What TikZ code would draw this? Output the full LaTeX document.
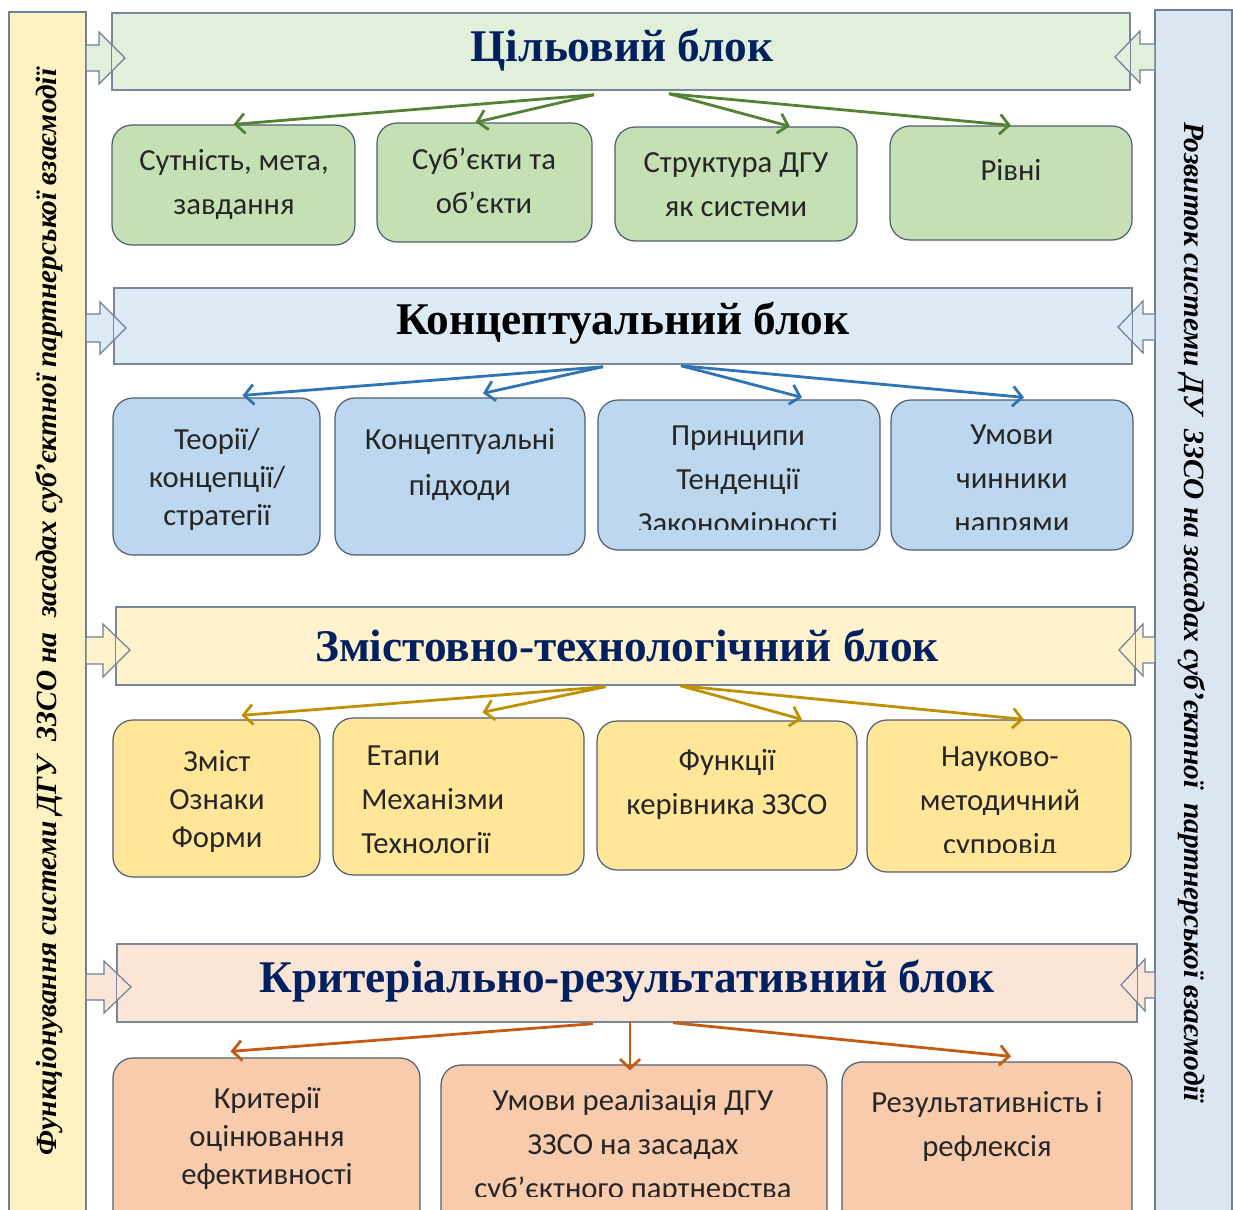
\documentclass[tikz,border=0pt]{standalone}
\usepackage{fontspec}
\setmainfont{Liberation Serif}
\newfontfamily\bodyfont{Carlito}
\usetikzlibrary{arrows.meta,fit,calc}
\definecolor{lbar}{HTML}{FFF2C2}
\definecolor{rbar}{HTML}{DCE6F2}
\definecolor{barline}{HTML}{6E7F99}
\definecolor{blkline}{HTML}{7A8798}
\definecolor{boxline}{HTML}{4E5D70}
\definecolor{gblk}{HTML}{E2EFDA}
\definecolor{gbox}{HTML}{C5E0B4}
\definecolor{garr}{HTML}{548235}
\definecolor{bblk}{HTML}{DDEBF7}
\definecolor{bbox}{HTML}{BDD7EE}
\definecolor{barr}{HTML}{2E75B6}
\definecolor{yblk}{HTML}{FFF2CC}
\definecolor{ybox}{HTML}{FFE699}
\definecolor{yarr}{HTML}{BF9000}
\definecolor{pblk}{HTML}{FBE5D6}
\definecolor{pbox}{HTML}{F8CBAD}
\definecolor{parr}{HTML}{C55A11}
\definecolor{navy}{HTML}{002060}
\definecolor{txt}{HTML}{262626}
\begin{document}
\begin{tikzpicture}[x=0.75pt,y=-0.75pt,
  sidebar/.style={draw=barline, line width=1.1pt, inner sep=0pt},
  titlebox/.style={draw=blkline, line width=1.1pt, inner sep=0pt},
  itembox/.style={draw=boxline, line width=0.9pt, rounded corners=15pt, inner sep=0pt},
  itemtext/.style={font=\bodyfont\fontsize{23}{33}\selectfont, text=txt, align=center, inner sep=0pt},
  tighttext/.style={font=\bodyfont\fontsize{23}{28.5}\selectfont, text=txt, align=center, inner sep=0pt},
  titletext/.style={font=\bfseries\fontsize{34}{40}\selectfont, inner sep=0pt},
  sidetext/.style={font=\bfseries\itshape\fontsize{22}{26}\selectfont, text=black, inner sep=0pt},
  conn/.style={line width=2.1pt, -{Straight Barb[length=7pt,width=15pt,line width=2.1pt]}},
  blockarrow/.style={draw=barline, line width=0.9pt}
]
\useasboundingbox (0,0) rectangle (1233,1210);
\clip (0,0) rectangle (1233,1210);

% side bars
\node[sidebar, fill=lbar, fit={(9,12) (86,1240)}] (LB) {};
\node[sidebar, fill=rbar, fit={(1155,10) (1232,1240)}] (RB) {};
\node[sidetext, rotate=90] (LT) at (49,612) {Функціонування системи ДГУ ~ЗЗСО на ~засадах суб’єктної партнерської взаємодії};
\node[sidetext, rotate=-90] (RT) at (1192,612) {Розвиток системи ДУ ~ЗЗСО на засадах суб’єктної ~партнерської взаємодії};

% ===== block 1
\node[titlebox, fill=gblk, fit={(112,13) (1130,90)}] (B1) {};
\draw[blockarrow, fill=gblk] (86,45) -- (99,45) -- (99,32) -- (125,58) -- (99,84) -- (99,71) -- (86,71) -- cycle;
\draw[blockarrow, fill=gblk] (1155,44) -- (1140,44) -- (1140,31) -- (1115,57) -- (1140,83) -- (1140,70) -- (1155,70) -- cycle;
\draw[draw=blkline, line width=1.1pt] (B1.north west) rectangle (B1.south east);
\node[titletext, text=navy] (T1) at (622,50) {Цільовий блок};

\node[itembox, fill=gbox, fit={(112,125) (355,245)}] (G1) {};
\node[itembox, fill=gbox, fit={(377,123) (592,242)}] (G2) {};
\node[itembox, fill=gbox, fit={(615,127) (857,241)}] (G3) {};
\node[itembox, fill=gbox, fit={(890,126) (1132,240)}] (G4) {};
\node[itemtext] (G1t) at (234,184) {Сутність, мета,\\завдання};
\node[itemtext] (G2t) at (484,181) {Суб’єкти та\\об’єкти};
\node[itemtext] (G3t) at (736,185) {Структура ДГУ\\як системи};
\node[itemtext] (G4t) at (1011,170) {Рівні};

\coordinate (s1l) at ($(B1.south)+(-27,4)$);
\coordinate (s1r) at ($(B1.south)+(48,3)$);
\draw[conn, garr] (s1l) -- (G1.north);
\draw[conn, garr] (s1l) -- ($(G2.north)+(-9,0)$);
\draw[conn, garr] (s1r) -- ($(G3.north)+(54,0)$);
\draw[conn, garr] (s1r) -- (G4.north);

% ===== block 2
\node[titlebox, fill=bblk, fit={(114,288) (1132,364)}] (B2) {};
\draw[blockarrow, fill=bblk] (86,314) -- (100,314) -- (100,302) -- (126,328) -- (100,354) -- (100,342) -- (86,342) -- cycle;
\draw[blockarrow, fill=bblk] (1155,314) -- (1143,314) -- (1143,301) -- (1118,327) -- (1143,353) -- (1143,340) -- (1155,340) -- cycle;
\draw[draw=blkline, line width=1.1pt] (B2.north west) rectangle (B2.south east);
\node[titletext, text=black] (T2) at (623,323) {Концептуальний блок};

\node[itembox, fill=bbox, fit={(113,398) (320,555)}] (U1) {};
\node[itembox, fill=bbox, fit={(335,398) (585,555)}] (U2) {};
\node[itembox, fill=bbox, fit={(598,400) (880,550)}] (U3) {};
\node[itembox, fill=bbox, fit={(891,400) (1133,550)}] (U4) {};
\node[tighttext] (U1t) at (217,479) {Теорії/\\концепції/\\стратегії};
\node[itemtext, font=\bodyfont\fontsize{23}{34.5}\selectfont] (U2t) at (460,464) {Концептуальні\\підходи};
\begin{scope}
\clip (U3.north west) rectangle ($(U3.south east)+(0,-21)$);
\node[itemtext] (U3t) at (738,482) {Принципи\\Тенденції\\Закономірності};
\end{scope}
\begin{scope}
\clip (U4.north west) rectangle ($(U4.south east)+(0,-21)$);
\node[itemtext] (U4t) at (1012,481) {Умови\\чинники\\напрями};
\end{scope}

\coordinate (s2l) at ($(B2.south)+(-20,2)$);
\coordinate (s2r) at ($(B2.south)+(58,1)$);
\draw[conn, barr] (s2l) -- ($(U1.north)+(26,-2)$);
\draw[conn, barr] (s2l) -- ($(U2.north)+(23,-4)$);
\draw[conn, barr] (s2r) -- ($(U3.north)+(63,-2)$);
\draw[conn, barr] (s2r) -- ($(U4.north)+(12,-2)$);

% ===== block 3
\node[titlebox, fill=yblk, fit={(116,607) (1135,685)}] (B3) {};
\draw[blockarrow, fill=yblk] (86,637) -- (103,637) -- (103,624) -- (130,650) -- (103,677) -- (103,664) -- (86,664) -- cycle;
\draw[blockarrow, fill=yblk] (1155,637) -- (1143,637) -- (1143,624) -- (1119,650) -- (1143,676) -- (1143,663) -- (1155,663) -- cycle;
\draw[draw=blkline, line width=1.1pt] (B3.north west) rectangle (B3.south east);
\node[titletext, text=navy] (T3) at (627,645) {Змістовно-технологічний блок};

\node[itembox, fill=ybox, fit={(113,720) (320,877)}] (Y1) {};
\node[itembox, fill=ybox, fit={(333,718) (584,875)}] (Y2) {};
\node[itembox, fill=ybox, fit={(597,721) (857,870)}] (Y3) {};
\node[itembox, fill=ybox, fit={(867,720) (1131,872)}] (Y4) {};
\node[tighttext] (Y1t) at (217,801) {Зміст\\Ознаки\\Форми};
\node[itemtext, align=left, anchor=west] (Y2t) at (361,800) {\hspace{4pt}Етапи\\Механізми\\Технології};
\node[itemtext] (Y3t) at (727,784) {Функції\\керівника ЗЗСО};
\begin{scope}
\clip (Y4.north west) rectangle ($(Y4.south east)+(0,-20)$);
\node[itemtext] (Y4t) at (1000,803) {Науково-\\методичний\\супровід};
\end{scope}

\coordinate (s3l) at ($(B3.south)+(-20,1)$);
\coordinate (s3r) at ($(B3.south)+(55,0)$);
\draw[conn, yarr] (s3l) -- ($(Y1.north)+(25,-4)$);
\draw[conn, yarr] (s3l) -- ($(Y2.north)+(24,-5)$);
\draw[conn, yarr] (s3r) -- ($(Y3.north)+(75,-1)$);
\draw[conn, yarr] (s3r) -- ($(Y4.north)+(25,0)$);

% ===== block 4
\node[titlebox, fill=pblk, fit={(117,944) (1137,1022)}] (B4) {};
\draw[blockarrow, fill=pblk] (86,974) -- (104,974) -- (104,961) -- (131,987) -- (104,1013) -- (104,1000) -- (86,1000) -- cycle;
\draw[blockarrow, fill=pblk] (1155,972) -- (1145,972) -- (1145,959) -- (1121,985) -- (1145,1011) -- (1145,998) -- (1155,998) -- cycle;
\draw[draw=blkline, line width=1.1pt] (B4.north west) rectangle (B4.south east);
\node[titletext, text=navy] (T4) at (627,981) {Критеріально-результативний блок};

\node[itembox, fill=pbox, fit={(113,1058) (420,1240)}] (P1) {};
\node[itembox, fill=pbox, fit={(441,1065) (827,1240)}] (P2) {};
\node[itembox, fill=pbox, fit={(842,1062) (1132,1240)}] (P3) {};
\node[tighttext] (P1t) at (267,1138) {Критерії\\оцінювання\\ефективності};
\begin{scope}
\clip (P2.north west) rectangle (827,1196);
\node[itemtext] (P2t) at (633,1146) {Умови реалізація ДГУ\\ЗЗСО на засадах\\суб’єктного партнерства};
\end{scope}
\node[itemtext] (P3t) at (987,1126) {Результативність і\\рефлексія};

\coordinate (s4l) at ($(B4.south)+(-34,1)$);
\coordinate (s4m) at ($(B4.south)+(3,-2)$);
\coordinate (s4r) at ($(B4.south)+(46,0)$);
\draw[conn, parr] (s4l) -- ($(P1.north)+(-36,-6)$);
\draw[conn, parr] (s4m) -- ($(P2.north)+(-4,6)$);
\draw[conn, parr] (s4r) -- ($(P3.north)+(24,-5)$);
\end{tikzpicture}
\end{document}
